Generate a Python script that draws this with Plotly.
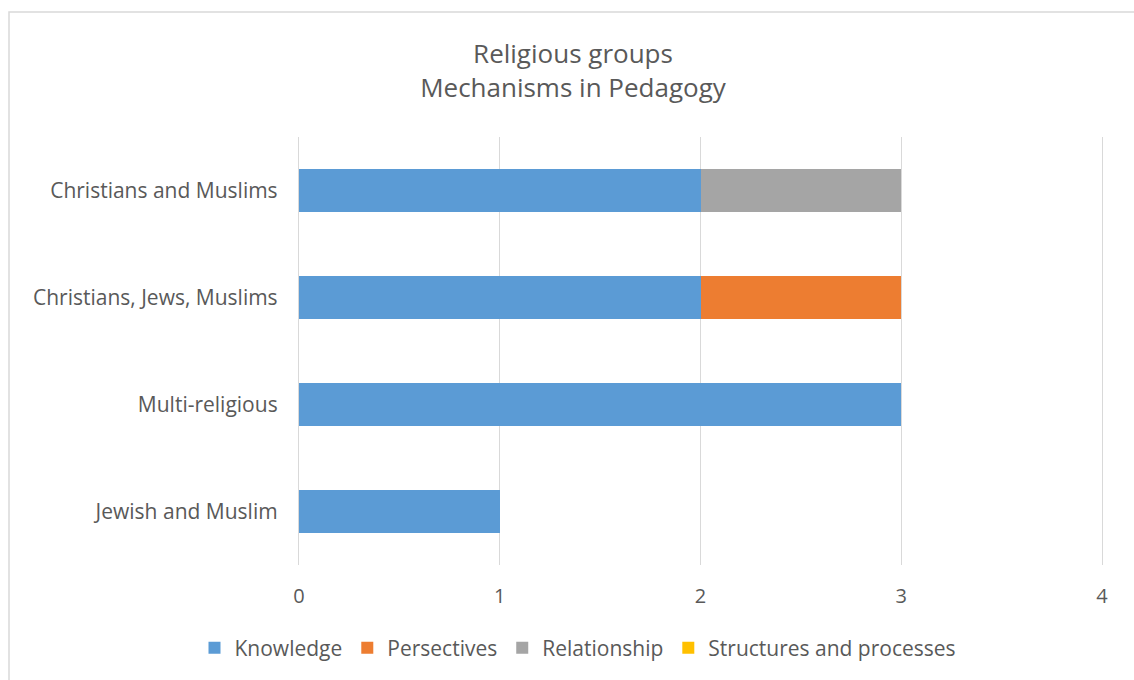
import plotly.graph_objects as go

# Religious groups (top to bottom) and counts of mechanisms per category
groups = ["Christians and Muslims", "Christians, Jews, Muslims", "Multi-religious", "Jewish and Muslim"]
knowledge = [2, 2, 3, 1]
persectives = [0, 1, 0, 0]
relationship = [1, 0, 0, 0]
structures = [0, 0, 0, 0]

series = [
    ("Knowledge", knowledge, "#5B9BD5"),
    ("Persectives", persectives, "#ED7D31"),
    ("Relationship", relationship, "#A5A5A5"),
    ("Structures and processes", structures, "#FFC000"),
]

W, H = 1134, 680
L, R, T, B = 299, 32, 137, 115
pw, ph = W - L - R, H - T - B

def px_x(p):
    return (p - L) / pw

def px_y(p):
    return (H - B - p) / ph

FONT = "'Open Sans', 'Segoe UI', sans-serif"
GREY = "#595959"
GRID = "#D9D9D9"

fig = go.Figure()
for name, vals, col in series:
    fig.add_trace(go.Bar(
        y=groups, x=vals, name=name, orientation="h",
        marker=dict(color=col, line=dict(width=0)),
    ))

fig.update_layout(
    width=W, height=H,
    margin=dict(l=L, r=R, t=T, b=B),
    barmode="stack", bargap=0.6,
    plot_bgcolor="white", paper_bgcolor="white",
    font=dict(family=FONT, color=GREY, size=20),
    title=dict(
        text="Religious groups<br>Mechanisms in Pedagogy",
        x=px_x(573), xref="paper", xanchor="center",
        y=1 - 63 / H, yanchor="middle",
        font=dict(size=26, color=GREY, family=FONT),
    ),
    xaxis=dict(
        range=[0, 4], dtick=1, showgrid=True, gridcolor=GRID, gridwidth=1.3,
        zeroline=False, showline=False, ticks="", ticklabelstandoff=17,
        tickfont=dict(size=20, color=GREY),
    ),
    yaxis=dict(
        autorange="reversed", showgrid=False, zeroline=False,
        showline=True, mirror=True, linecolor=GRID, linewidth=1.3,
        ticks="", ticklabelstandoff=16, tickfont=dict(size=21, color=GREY),
    ),
    legend=dict(
        orientation="h", x=px_x(578), xanchor="center", y=px_y(648), yanchor="middle",
        font=dict(size=21, color=GREY), itemwidth=30, traceorder="normal",
    ),
    showlegend=True,
)

# Chart outline
fig.add_shape(
    type="rect", xref="paper", yref="paper",
    x0=px_x(9), x1=px_x(1145), y0=px_y(695), y1=px_y(12),
    line=dict(color=GRID, width=1.5), fillcolor="rgba(0,0,0,0)", layer="below",
)

fig.write_html("out.html")
